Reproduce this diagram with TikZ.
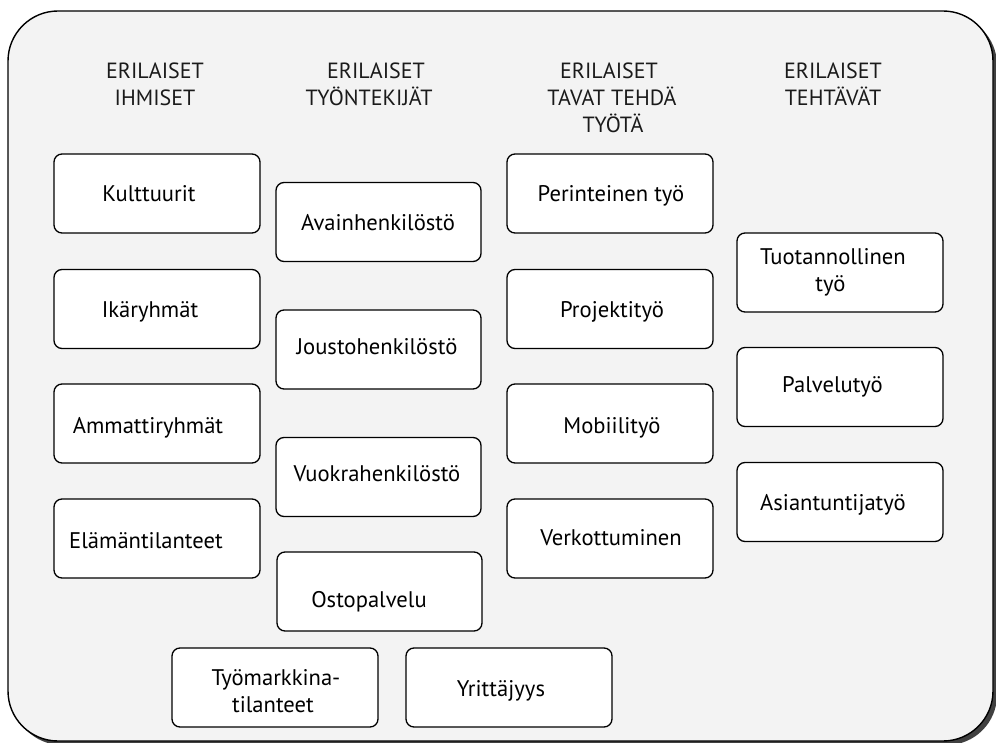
\documentclass[tikz,border=0pt]{standalone}
\usepackage{fontspec}
\setmainfont{PT Sans}
\usetikzlibrary{shadows,calc}
\definecolor{panelgrey}{HTML}{F3F3F3}
\definecolor{inkgrey}{HTML}{1A1A1A}
\begin{document}
\begin{tikzpicture}[x=1pt,y=-1pt,
  panel/.style={draw=black, line width=1.4pt, fill=panelgrey, rounded corners=50pt,
    drop shadow={shadow xshift=4pt, shadow yshift=-4pt, opacity=0.75, fill=black}},
  bx/.style={draw=black, line width=1.3pt, rounded corners=8pt, fill=white, inner sep=0pt,
    minimum width=206pt, minimum height=79pt},
  txt/.style={font=\fontsize{22.6}{27}\selectfont, align=center, inner sep=0pt, anchor=base, text=black},
  hd/.style={font=\fontsize{22}{27}\selectfont, align=center, inner sep=0pt, anchor=base, text=inkgrey}]
\useasboundingbox (0,0) rectangle (996,743);
\path[panel] (8,11) rectangle (993,741);

% headings
\node[hd] (h1a) at (155,79) {ERILAISET};
\node[hd] (h1b) at (155,106) {IHMISET};
\node[hd] (h2a) at (376,79) {ERILAISET};
\node[hd] (h2b) at (369,106) {TYÖNTEKIJÄT};
\node[hd] (h3a) at (609,79) {ERILAISET};
\node[hd] (h3b) at (612,106) {TAVAT TEHDÄ};
\node[hd] (h3c) at (613,133) {TYÖTÄ};
\node[hd] (h4a) at (833,79) {ERILAISET};
\node[hd] (h4b) at (833,106) {TEHTÄVÄT};

% column 1
\node[bx] (k) at (157,193.5) {};
\node[txt] (kt) at (149,202) {Kulttuurit};
\node[bx] (i) at (157,309) {};
\node[txt] (it) at (150,318) {Ikäryhmät};
\node[bx] (a) at (157,423.5) {};
\node[txt] (at) at (148,433) {Ammattiryhmät};
\node[bx] (e) at (157,538.5) {};
\node[txt] (et) at (146,548) {Elämäntilanteet};

% column 2
\node[bx, minimum width=205pt] (av) at (378.5,222) {};
\node[txt] (avt) at (378,231) {Avainhenkilöstö};
\node[bx, minimum width=205pt] (jo) at (378.5,349.5) {};
\node[txt] (jot) at (377,354) {Joustohenkilöstö};
\node[bx, minimum width=205pt] (vu) at (378.5,477) {};
\node[txt] (vut) at (377,481) {Vuokrahenkilöstö};
\node[bx, minimum width=205pt] (os) at (379.5,591.5) {};
\node[txt] (ost) at (369,607) {Ostopalvelu};

% column 3
\node[bx] (pe) at (610,193.5) {};
\node[txt] (pet) at (611,202) {Perinteinen työ};
\node[bx] (pr) at (610,309) {};
\node[txt] (prt) at (612,318) {Projektityö};
\node[bx] (mo) at (610,423.5) {};
\node[txt] (mot) at (612,433) {Mobiilityö};
\node[bx] (ve) at (610,538.5) {};
\node[txt] (vet) at (611,545) {Verkottuminen};

% column 4
\node[bx] (tu) at (840,272.5) {};
\node[txt] (tut1) at (833,265) {Tuotannollinen};
\node[txt] (tut2) at (830.5,292) {työ};
\node[bx] (pa) at (840,387) {};
\node[txt] (pat) at (832.5,392) {Palvelutyö};
\node[bx] (as) at (840,502) {};
\node[txt] (ast) at (833,510) {Asiantuntijatyö};

% bottom row
\node[bx] (ty) at (275,687.5) {};
\node[txt] (tyt1) at (276,685) {Työmarkkina-};
\node[txt] (tyt2) at (273,712) {tilanteet};
\node[bx] (yr) at (509,687.5) {};
\node[txt] (yrt) at (501,696) {Yrittäjyys};
\end{tikzpicture}
\end{document}
